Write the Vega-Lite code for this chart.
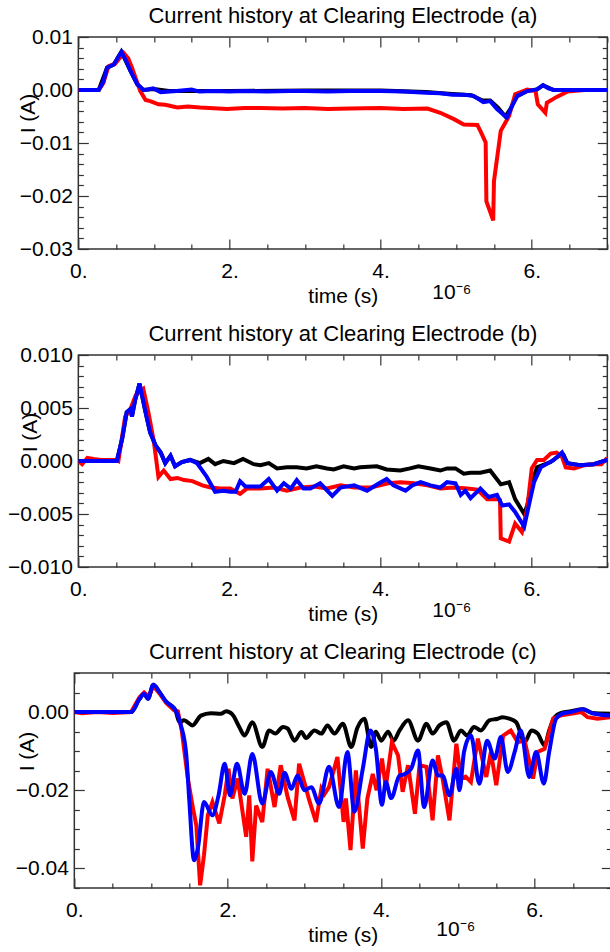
{
  "$schema": "https://vega.github.io/schema/vega-lite/v6.json",
  "autosize": {"type": "pad"},
  "padding": {"left": 6, "top": 4, "right": 0, "bottom": 0},
  "background": "white",
  "config": {
    "view": {"stroke": "#333333", "strokeWidth": 1.5},
    "axis": {"domain": false, "grid": false, "tickColor": "#333333", "tickWidth": 1.2, "labelFont": "Liberation Sans", "labelFontSize": 21, "labelColor": "#000000", "titleFont": "Liberation Sans", "titleFontSize": 21, "titleFontWeight": "normal", "titleColor": "#000000", "labelFlush": false, "labelOverlap": false, "labelBound": false},
    "title": {"font": "Liberation Sans", "fontSize": 22, "fontWeight": "normal", "color": "#000000", "frame": "group", "offset": -2}
  },
  "datasets": {
    "a": [
      {"s":"black","t":0,"I":0},{"s":"black","t":0.27,"I":0},{"s":"black","t":0.38,"I":0.0042},{"s":"black","t":0.47,"I":0.0048},{"s":"black","t":0.57,"I":0.0072},{"s":"black","t":0.69,"I":0.0036},{"s":"black","t":0.78,"I":0.0011},{"s":"black","t":0.86,"I":0},{"s":"black","t":1.0,"I":0.0002},{"s":"black","t":1.2,"I":-0.0002},{"s":"black","t":2.0,"I":-0.0002},{"s":"black","t":3.0,"I":-0.0001},{"s":"black","t":4.0,"I":-0.0001},{"s":"black","t":4.6,"I":-0.0004},{"s":"black","t":4.9,"I":-0.0007},{"s":"black","t":5.2,"I":-0.001},{"s":"black","t":5.35,"I":-0.002},{"s":"black","t":5.45,"I":-0.002},{"s":"black","t":5.55,"I":-0.0033},{"s":"black","t":5.65,"I":-0.005},{"s":"black","t":5.72,"I":-0.0035},{"s":"black","t":5.8,"I":-0.0012},{"s":"black","t":5.94,"I":-0.0002},{"s":"black","t":6.07,"I":0.0001},{"s":"black","t":6.15,"I":0.0009},{"s":"black","t":6.29,"I":0},{"s":"black","t":7,"I":0},
      {"s":"red","t":0,"I":0},{"s":"red","t":0.27,"I":0},{"s":"red","t":0.33,"I":0.0013},{"s":"red","t":0.4,"I":0.0045},{"s":"red","t":0.49,"I":0.005},{"s":"red","t":0.6,"I":0.007},{"s":"red","t":0.66,"I":0.006},{"s":"red","t":0.71,"I":0.0042},{"s":"red","t":0.82,"I":-0.0002},{"s":"red","t":0.89,"I":-0.0019},{"s":"red","t":0.95,"I":-0.0021},{"s":"red","t":1.06,"I":-0.0027},{"s":"red","t":1.15,"I":-0.0028},{"s":"red","t":1.31,"I":-0.0033},{"s":"red","t":1.45,"I":-0.0031},{"s":"red","t":1.61,"I":-0.0033},{"s":"red","t":1.97,"I":-0.0036},{"s":"red","t":2.2,"I":-0.0034},{"s":"red","t":2.41,"I":-0.0034},{"s":"red","t":2.7,"I":-0.0035},{"s":"red","t":3.0,"I":-0.0034},{"s":"red","t":3.3,"I":-0.0036},{"s":"red","t":3.6,"I":-0.0035},{"s":"red","t":4.0,"I":-0.0034},{"s":"red","t":4.3,"I":-0.0036},{"s":"red","t":4.62,"I":-0.0035},{"s":"red","t":4.79,"I":-0.0043},{"s":"red","t":4.97,"I":-0.0055},{"s":"red","t":5.1,"I":-0.0065},{"s":"red","t":5.28,"I":-0.0066},{"s":"red","t":5.32,"I":-0.0077},{"s":"red","t":5.39,"I":-0.0099},{"s":"red","t":5.4,"I":-0.021},{"s":"red","t":5.49,"I":-0.0246},{"s":"red","t":5.5,"I":-0.0172},{"s":"red","t":5.59,"I":-0.0077},{"s":"red","t":5.7,"I":-0.0049},{"s":"red","t":5.78,"I":-0.0008},{"s":"red","t":5.94,"I":0.0001},{"s":"red","t":6.05,"I":-0.0002},{"s":"red","t":6.08,"I":-0.0027},{"s":"red","t":6.18,"I":-0.0043},{"s":"red","t":6.2,"I":-0.0024},{"s":"red","t":6.33,"I":-0.0013},{"s":"red","t":6.47,"I":-0.0003},{"s":"red","t":6.7,"I":0},{"s":"red","t":7,"I":0},
      {"s":"blue","t":0,"I":0},{"s":"blue","t":0.27,"I":0},{"s":"blue","t":0.33,"I":0.0015},{"s":"blue","t":0.38,"I":0.0042},{"s":"blue","t":0.47,"I":0.0048},{"s":"blue","t":0.57,"I":0.0072},{"s":"blue","t":0.63,"I":0.0056},{"s":"blue","t":0.69,"I":0.0036},{"s":"blue","t":0.78,"I":0.0011},{"s":"blue","t":0.86,"I":0},{"s":"blue","t":0.92,"I":0.0001},{"s":"blue","t":0.99,"I":0.0003},{"s":"blue","t":1.09,"I":-0.0004},{"s":"blue","t":1.3,"I":-0.0002},{"s":"blue","t":1.5,"I":0.0001},{"s":"blue","t":1.6,"I":-0.0003},{"s":"blue","t":1.8,"I":-0.0002},{"s":"blue","t":2.0,"I":-0.0003},{"s":"blue","t":2.2,"I":-0.0002},{"s":"blue","t":2.5,"I":-0.0003},{"s":"blue","t":2.8,"I":-0.0002},{"s":"blue","t":3.0,"I":-0.0002},{"s":"blue","t":3.3,"I":-0.0003},{"s":"blue","t":3.6,"I":-0.0002},{"s":"blue","t":4.0,"I":-0.0002},{"s":"blue","t":4.3,"I":-0.0003},{"s":"blue","t":4.6,"I":-0.0005},{"s":"blue","t":4.79,"I":-0.0006},{"s":"blue","t":4.95,"I":-0.0009},{"s":"blue","t":5.1,"I":-0.0009},{"s":"blue","t":5.23,"I":-0.0011},{"s":"blue","t":5.36,"I":-0.0023},{"s":"blue","t":5.45,"I":-0.0021},{"s":"blue","t":5.54,"I":-0.0036},{"s":"blue","t":5.67,"I":-0.0052},{"s":"blue","t":5.74,"I":-0.003},{"s":"blue","t":5.81,"I":-0.0011},{"s":"blue","t":5.94,"I":-0.0002},{"s":"blue","t":6.07,"I":0.0001},{"s":"blue","t":6.15,"I":0.0009},{"s":"blue","t":6.22,"I":0.0003},{"s":"blue","t":6.29,"I":0},{"s":"blue","t":6.5,"I":0},{"s":"blue","t":7,"I":0}
    ],
    "b": [
      {"s":"black","t":0,"I":0},{"s":"black","t":0.51,"I":0},{"s":"black","t":0.58,"I":0.0021},{"s":"black","t":0.64,"I":0.0046},{"s":"black","t":0.69,"I":0.0049},{"s":"black","t":0.71,"I":0.0042},{"s":"black","t":0.75,"I":0.0057},{"s":"black","t":0.81,"I":0.0073},{"s":"black","t":0.89,"I":0.0046},{"s":"black","t":0.95,"I":0.0027},{"s":"black","t":1.02,"I":0.0015},{"s":"black","t":1.09,"I":0.0008},{"s":"black","t":1.15,"I":-0.0002},{"s":"black","t":1.22,"I":0.0005},{"s":"black","t":1.28,"I":-0.0005},{"s":"black","t":1.37,"I":-0.0001},{"s":"black","t":1.48,"I":0.0001},{"s":"black","t":1.61,"I":-0.0002},{"s":"black","t":1.72,"I":0.0002},{"s":"black","t":1.81,"I":-0.0003},{"s":"black","t":1.92,"I":0},{"s":"black","t":2.06,"I":-0.0002},{"s":"black","t":2.18,"I":0.0002},{"s":"black","t":2.32,"I":-0.0003},{"s":"black","t":2.41,"I":-0.0004},{"s":"black","t":2.52,"I":-0.0002},{"s":"black","t":2.63,"I":-0.0007},{"s":"black","t":2.76,"I":-0.0006},{"s":"black","t":2.89,"I":-0.0006},{"s":"black","t":3.02,"I":-0.0007},{"s":"black","t":3.15,"I":-0.0005},{"s":"black","t":3.29,"I":-0.0007},{"s":"black","t":3.38,"I":-0.0008},{"s":"black","t":3.51,"I":-0.0005},{"s":"black","t":3.65,"I":-0.0007},{"s":"black","t":3.73,"I":-0.0006},{"s":"black","t":3.95,"I":-0.0005},{"s":"black","t":4.08,"I":-0.0008},{"s":"black","t":4.26,"I":-0.0009},{"s":"black","t":4.39,"I":-0.0007},{"s":"black","t":4.5,"I":-0.0005},{"s":"black","t":4.66,"I":-0.0007},{"s":"black","t":4.79,"I":-0.0009},{"s":"black","t":4.88,"I":-0.0007},{"s":"black","t":4.99,"I":-0.0007},{"s":"black","t":5.1,"I":-0.0012},{"s":"black","t":5.19,"I":-0.0011},{"s":"black","t":5.32,"I":-0.0011},{"s":"black","t":5.45,"I":-0.0009},{"s":"black","t":5.59,"I":-0.0022},{"s":"black","t":5.7,"I":-0.002},{"s":"black","t":5.78,"I":-0.0036},{"s":"black","t":5.9,"I":-0.005},{"s":"black","t":5.94,"I":-0.0042},{"s":"black","t":6.0,"I":-0.0021},{"s":"black","t":6.07,"I":-0.0006},{"s":"black","t":6.25,"I":-0.0001},{"s":"black","t":6.38,"I":0.0006},{"s":"black","t":6.42,"I":0.0006},{"s":"black","t":6.47,"I":-0.0002},{"s":"black","t":6.64,"I":-0.0004},{"s":"black","t":6.82,"I":-0.0003},{"s":"black","t":7.0,"I":0.0001},
      {"s":"red","t":0,"I":0},{"s":"red","t":0.05,"I":-0.0003},{"s":"red","t":0.12,"I":0.0003},{"s":"red","t":0.2,"I":0.0002},{"s":"red","t":0.3,"I":0.0001},{"s":"red","t":0.4,"I":0.0001},{"s":"red","t":0.5,"I":0.0001},{"s":"red","t":0.53,"I":0},{"s":"red","t":0.62,"I":0.0042},{"s":"red","t":0.69,"I":0.0049},{"s":"red","t":0.76,"I":0.0062},{"s":"red","t":0.86,"I":0.0068},{"s":"red","t":0.93,"I":0.0045},{"s":"red","t":1.0,"I":0.0018},{"s":"red","t":1.06,"I":-0.0015},{"s":"red","t":1.13,"I":-0.0009},{"s":"red","t":1.22,"I":-0.0017},{"s":"red","t":1.31,"I":-0.0016},{"s":"red","t":1.4,"I":-0.0018},{"s":"red","t":1.51,"I":-0.0019},{"s":"red","t":1.64,"I":-0.0023},{"s":"red","t":1.75,"I":-0.0025},{"s":"red","t":1.88,"I":-0.0026},{"s":"red","t":2.01,"I":-0.0026},{"s":"red","t":2.14,"I":-0.0031},{"s":"red","t":2.23,"I":-0.0026},{"s":"red","t":2.41,"I":-0.0026},{"s":"red","t":2.59,"I":-0.0025},{"s":"red","t":2.76,"I":-0.0028},{"s":"red","t":2.94,"I":-0.0025},{"s":"red","t":3.12,"I":-0.0024},{"s":"red","t":3.29,"I":-0.0026},{"s":"red","t":3.47,"I":-0.0023},{"s":"red","t":3.65,"I":-0.0025},{"s":"red","t":3.87,"I":-0.0025},{"s":"red","t":4.1,"I":-0.0021},{"s":"red","t":4.26,"I":-0.002},{"s":"red","t":4.44,"I":-0.0021},{"s":"red","t":4.62,"I":-0.0023},{"s":"red","t":4.79,"I":-0.0026},{"s":"red","t":4.97,"I":-0.0025},{"s":"red","t":5.15,"I":-0.0026},{"s":"red","t":5.28,"I":-0.0027},{"s":"red","t":5.41,"I":-0.0036},{"s":"red","t":5.54,"I":-0.0036},{"s":"red","t":5.58,"I":-0.0037},{"s":"red","t":5.59,"I":-0.0073},{"s":"red","t":5.7,"I":-0.0076},{"s":"red","t":5.78,"I":-0.0059},{"s":"red","t":5.87,"I":-0.0067},{"s":"red","t":5.94,"I":-0.0045},{"s":"red","t":6.0,"I":-0.0007},{"s":"red","t":6.07,"I":0.0001},{"s":"red","t":6.16,"I":0.0001},{"s":"red","t":6.25,"I":0.0007},{"s":"red","t":6.33,"I":0.0008},{"s":"red","t":6.4,"I":0.0004},{"s":"red","t":6.45,"I":-0.0006},{"s":"red","t":6.56,"I":-0.0007},{"s":"red","t":6.69,"I":-0.0004},{"s":"red","t":6.82,"I":-0.0003},{"s":"red","t":6.92,"I":-0.0003},{"s":"red","t":7.0,"I":0.0003},
      {"s":"blue","t":0,"I":0},{"s":"blue","t":0.51,"I":0},{"s":"blue","t":0.58,"I":0.0021},{"s":"blue","t":0.64,"I":0.0046},{"s":"blue","t":0.69,"I":0.0049},{"s":"blue","t":0.71,"I":0.0042},{"s":"blue","t":0.75,"I":0.0057},{"s":"blue","t":0.81,"I":0.0073},{"s":"blue","t":0.89,"I":0.0046},{"s":"blue","t":0.95,"I":0.0027},{"s":"blue","t":1.02,"I":0.0015},{"s":"blue","t":1.09,"I":0.0008},{"s":"blue","t":1.15,"I":-0.0002},{"s":"blue","t":1.22,"I":0.0005},{"s":"blue","t":1.28,"I":-0.0005},{"s":"blue","t":1.37,"I":-0.0001},{"s":"blue","t":1.48,"I":0.0001},{"s":"blue","t":1.57,"I":-0.0002},{"s":"blue","t":1.7,"I":-0.0015},{"s":"blue","t":1.81,"I":-0.0029},{"s":"blue","t":1.92,"I":-0.0028},{"s":"blue","t":2.01,"I":-0.0029},{"s":"blue","t":2.08,"I":-0.0029},{"s":"blue","t":2.14,"I":-0.0019},{"s":"blue","t":2.21,"I":-0.0024},{"s":"blue","t":2.41,"I":-0.0024},{"s":"blue","t":2.52,"I":-0.0017},{"s":"blue","t":2.63,"I":-0.0028},{"s":"blue","t":2.72,"I":-0.0021},{"s":"blue","t":2.81,"I":-0.0026},{"s":"blue","t":2.89,"I":-0.0018},{"s":"blue","t":2.98,"I":-0.0026},{"s":"blue","t":3.07,"I":-0.0026},{"s":"blue","t":3.2,"I":-0.0021},{"s":"blue","t":3.36,"I":-0.0033},{"s":"blue","t":3.47,"I":-0.0025},{"s":"blue","t":3.65,"I":-0.0023},{"s":"blue","t":3.82,"I":-0.0028},{"s":"blue","t":3.98,"I":-0.0021},{"s":"blue","t":4.08,"I":-0.0017},{"s":"blue","t":4.17,"I":-0.0023},{"s":"blue","t":4.33,"I":-0.0028},{"s":"blue","t":4.42,"I":-0.0023},{"s":"blue","t":4.53,"I":-0.002},{"s":"blue","t":4.66,"I":-0.0023},{"s":"blue","t":4.79,"I":-0.0025},{"s":"blue","t":4.88,"I":-0.002},{"s":"blue","t":4.99,"I":-0.0021},{"s":"blue","t":5.06,"I":-0.0032},{"s":"blue","t":5.12,"I":-0.0028},{"s":"blue","t":5.19,"I":-0.0035},{"s":"blue","t":5.32,"I":-0.0026},{"s":"blue","t":5.43,"I":-0.0034},{"s":"blue","t":5.54,"I":-0.0032},{"s":"blue","t":5.61,"I":-0.0042},{"s":"blue","t":5.7,"I":-0.0041},{"s":"blue","t":5.78,"I":-0.0048},{"s":"blue","t":5.9,"I":-0.0062},{"s":"blue","t":5.98,"I":-0.0036},{"s":"blue","t":6.03,"I":-0.002},{"s":"blue","t":6.12,"I":-0.0006},{"s":"blue","t":6.29,"I":0.0001},{"s":"blue","t":6.4,"I":0.0008},{"s":"blue","t":6.47,"I":-0.0002},{"s":"blue","t":6.64,"I":-0.0004},{"s":"blue","t":6.82,"I":-0.0003},{"s":"blue","t":7.0,"I":0.0001}
    ],
    "c": [
      {"s":"black","t":0,"I":0},{"s":"black","t":0.74,"I":0},{"s":"black","t":0.85,"I":0.0034},{"s":"black","t":0.91,"I":0.0047},{"s":"black","t":0.96,"I":0.0034},{"s":"black","t":1.03,"I":0.007},{"s":"black","t":1.11,"I":0.0051},{"s":"black","t":1.2,"I":0.0026},{"s":"black","t":1.26,"I":0.0017},{"s":"black","t":1.32,"I":0.0004},{"s":"black","t":1.37,"I":-0.0026},{"s":"black","t":1.43,"I":-0.0021},{"s":"black","t":1.54,"I":-0.0034},{"s":"black","t":1.65,"I":-0.0009},{"s":"black","t":1.78,"I":-0.0003},{"s":"black","t":1.91,"I":-0.0004},{"s":"black","t":1.98,"I":0.0002},{"s":"black","t":2.06,"I":-0.0006},{"s":"black","t":2.15,"I":-0.0038},{"s":"black","t":2.22,"I":-0.006},{"s":"black","t":2.32,"I":-0.0026},{"s":"black","t":2.45,"I":-0.0089},{"s":"black","t":2.54,"I":-0.0047},{"s":"black","t":2.62,"I":-0.0055},{"s":"black","t":2.72,"I":-0.0038},{"s":"black","t":2.78,"I":-0.0042},{"s":"black","t":2.87,"I":-0.0073},{"s":"black","t":2.96,"I":-0.0051},{"s":"black","t":3.02,"I":-0.0066},{"s":"black","t":3.13,"I":-0.0047},{"s":"black","t":3.22,"I":-0.0055},{"s":"black","t":3.3,"I":-0.0034},{"s":"black","t":3.39,"I":-0.0055},{"s":"black","t":3.5,"I":-0.003},{"s":"black","t":3.61,"I":-0.0089},{"s":"black","t":3.69,"I":-0.004},{"s":"black","t":3.78,"I":-0.0017},{"s":"black","t":3.87,"I":-0.0089},{"s":"black","t":3.93,"I":-0.005},{"s":"black","t":4.0,"I":-0.0073},{"s":"black","t":4.09,"I":-0.005},{"s":"black","t":4.16,"I":-0.0073},{"s":"black","t":4.24,"I":-0.0047},{"s":"black","t":4.35,"I":-0.0021},{"s":"black","t":4.48,"I":-0.0073},{"s":"black","t":4.59,"I":-0.003},{"s":"black","t":4.67,"I":-0.0055},{"s":"black","t":4.76,"I":-0.0034},{"s":"black","t":4.85,"I":-0.0026},{"s":"black","t":4.95,"I":-0.0073},{"s":"black","t":5.04,"I":-0.0047},{"s":"black","t":5.12,"I":-0.006},{"s":"black","t":5.21,"I":-0.0038},{"s":"black","t":5.3,"I":-0.0047},{"s":"black","t":5.41,"I":-0.0021},{"s":"black","t":5.52,"I":-0.0017},{"s":"black","t":5.58,"I":-0.0013},{"s":"black","t":5.67,"I":-0.0017},{"s":"black","t":5.76,"I":-0.0026},{"s":"black","t":5.87,"I":-0.0077},{"s":"black","t":5.96,"I":-0.0047},{"s":"black","t":6.04,"I":-0.0055},{"s":"black","t":6.13,"I":-0.0085},{"s":"black","t":6.19,"I":-0.0047},{"s":"black","t":6.26,"I":-0.0013},{"s":"black","t":6.35,"I":-0.0002},{"s":"black","t":6.47,"I":0.0002},{"s":"black","t":6.63,"I":0.0007},{"s":"black","t":6.75,"I":-0.0002},{"s":"black","t":7.0,"I":-0.0004},
      {"s":"red","t":0,"I":0},{"s":"red","t":0.1,"I":-0.0003},{"s":"red","t":0.3,"I":0},{"s":"red","t":0.5,"I":-0.0002},{"s":"red","t":0.74,"I":0},{"s":"red","t":0.85,"I":0.0038},{"s":"red","t":0.91,"I":0.005},{"s":"red","t":0.97,"I":0.004},{"s":"red","t":1.03,"I":0.0066},{"s":"red","t":1.11,"I":0.0048},{"s":"red","t":1.2,"I":0.0023},{"s":"red","t":1.3,"I":0.0005},{"s":"red","t":1.35,"I":0.0002},{"s":"red","t":1.4,"I":-0.0047},{"s":"red","t":1.48,"I":-0.017},{"s":"red","t":1.54,"I":-0.0239},{"s":"red","t":1.59,"I":-0.029},{"s":"red","t":1.64,"I":-0.0443},{"s":"red","t":1.69,"I":-0.0366},{"s":"red","t":1.74,"I":-0.0264},{"s":"red","t":1.8,"I":-0.023},{"s":"red","t":1.89,"I":-0.0285},{"s":"red","t":1.96,"I":-0.0213},{"s":"red","t":2.01,"I":-0.0145},{"s":"red","t":2.06,"I":-0.0221},{"s":"red","t":2.13,"I":-0.017},{"s":"red","t":2.24,"I":-0.0319},{"s":"red","t":2.28,"I":-0.0213},{"s":"red","t":2.32,"I":-0.0382},{"s":"red","t":2.37,"I":-0.0239},{"s":"red","t":2.45,"I":-0.0281},{"s":"red","t":2.52,"I":-0.0145},{"s":"red","t":2.61,"I":-0.0243},{"s":"red","t":2.69,"I":-0.0136},{"s":"red","t":2.78,"I":-0.0217},{"s":"red","t":2.87,"I":-0.0277},{"s":"red","t":2.93,"I":-0.0132},{"s":"red","t":3.02,"I":-0.0195},{"s":"red","t":3.06,"I":-0.0224},{"s":"red","t":3.15,"I":-0.0281},{"s":"red","t":3.22,"I":-0.0196},{"s":"red","t":3.26,"I":-0.021},{"s":"red","t":3.32,"I":-0.0192},{"s":"red","t":3.43,"I":-0.0115},{"s":"red","t":3.51,"I":-0.0281},{"s":"red","t":3.54,"I":-0.0221},{"s":"red","t":3.6,"I":-0.0353},{"s":"red","t":3.67,"I":-0.0149},{"s":"red","t":3.76,"I":-0.0349},{"s":"red","t":3.82,"I":-0.0221},{"s":"red","t":3.89,"I":-0.0158},{"s":"red","t":3.94,"I":-0.02},{"s":"red","t":4.01,"I":-0.0119},{"s":"red","t":4.06,"I":-0.0192},{"s":"red","t":4.14,"I":-0.0077},{"s":"red","t":4.22,"I":-0.0111},{"s":"red","t":4.28,"I":-0.0204},{"s":"red","t":4.35,"I":-0.0136},{"s":"red","t":4.44,"I":-0.026},{"s":"red","t":4.5,"I":-0.0136},{"s":"red","t":4.59,"I":-0.014},{"s":"red","t":4.67,"I":-0.0277},{"s":"red","t":4.74,"I":-0.0111},{"s":"red","t":4.8,"I":-0.017},{"s":"red","t":4.89,"I":-0.0277},{"s":"red","t":4.98,"I":-0.0081},{"s":"red","t":5.04,"I":-0.017},{"s":"red","t":5.1,"I":-0.0165},{"s":"red","t":5.17,"I":-0.0179},{"s":"red","t":5.26,"I":-0.0068},{"s":"red","t":5.37,"I":-0.0166},{"s":"red","t":5.43,"I":-0.0102},{"s":"red","t":5.5,"I":-0.0187},{"s":"red","t":5.59,"I":-0.006},{"s":"red","t":5.69,"I":-0.0047},{"s":"red","t":5.78,"I":-0.0077},{"s":"red","t":5.87,"I":-0.0073},{"s":"red","t":5.98,"I":-0.017},{"s":"red","t":6.04,"I":-0.0102},{"s":"red","t":6.13,"I":-0.0094},{"s":"red","t":6.24,"I":-0.0017},{"s":"red","t":6.35,"I":-0.0008},{"s":"red","t":6.47,"I":-0.0004},{"s":"red","t":6.61,"I":0},{"s":"red","t":6.69,"I":-0.0013},{"s":"red","t":6.82,"I":-0.0017},{"s":"red","t":7.0,"I":-0.0013},
      {"s":"blue","t":0,"I":0},{"s":"blue","t":0.74,"I":0},{"s":"blue","t":0.85,"I":0.0034},{"s":"blue","t":0.91,"I":0.0047},{"s":"blue","t":0.96,"I":0.0034},{"s":"blue","t":1.03,"I":0.007},{"s":"blue","t":1.11,"I":0.0051},{"s":"blue","t":1.2,"I":0.0026},{"s":"blue","t":1.26,"I":0.0017},{"s":"blue","t":1.32,"I":0.0004},{"s":"blue","t":1.39,"I":-0.0034},{"s":"blue","t":1.46,"I":-0.0111},{"s":"blue","t":1.5,"I":-0.023},{"s":"blue","t":1.56,"I":-0.0379},{"s":"blue","t":1.61,"I":-0.0349},{"s":"blue","t":1.69,"I":-0.023},{"s":"blue","t":1.8,"I":-0.0264},{"s":"blue","t":1.88,"I":-0.0213},{"s":"blue","t":1.96,"I":-0.0132},{"s":"blue","t":2.03,"I":-0.0213},{"s":"blue","t":2.12,"I":-0.0132},{"s":"blue","t":2.22,"I":-0.0209},{"s":"blue","t":2.32,"I":-0.0107},{"s":"blue","t":2.45,"I":-0.0234},{"s":"blue","t":2.56,"I":-0.0153},{"s":"blue","t":2.67,"I":-0.0209},{"s":"blue","t":2.74,"I":-0.0155},{"s":"blue","t":2.83,"I":-0.0196},{"s":"blue","t":2.91,"I":-0.0162},{"s":"blue","t":3.0,"I":-0.02},{"s":"blue","t":3.09,"I":-0.0192},{"s":"blue","t":3.19,"I":-0.0234},{"s":"blue","t":3.32,"I":-0.014},{"s":"blue","t":3.45,"I":-0.0243},{"s":"blue","t":3.56,"I":-0.0102},{"s":"blue","t":3.65,"I":-0.0255},{"s":"blue","t":3.76,"I":-0.0145},{"s":"blue","t":3.86,"I":-0.0047},{"s":"blue","t":3.93,"I":-0.0094},{"s":"blue","t":4.01,"I":-0.0237},{"s":"blue","t":4.06,"I":-0.0179},{"s":"blue","t":4.13,"I":-0.022},{"s":"blue","t":4.24,"I":-0.0162},{"s":"blue","t":4.29,"I":-0.016},{"s":"blue","t":4.39,"I":-0.0145},{"s":"blue","t":4.48,"I":-0.0098},{"s":"blue","t":4.56,"I":-0.0243},{"s":"blue","t":4.67,"I":-0.0124},{"s":"blue","t":4.74,"I":-0.0162},{"s":"blue","t":4.8,"I":-0.0162},{"s":"blue","t":4.89,"I":-0.0213},{"s":"blue","t":4.98,"I":-0.0145},{"s":"blue","t":5.02,"I":-0.02},{"s":"blue","t":5.08,"I":-0.0102},{"s":"blue","t":5.17,"I":-0.006},{"s":"blue","t":5.28,"I":-0.0183},{"s":"blue","t":5.38,"I":-0.0073},{"s":"blue","t":5.48,"I":-0.0119},{"s":"blue","t":5.56,"I":-0.0064},{"s":"blue","t":5.65,"I":-0.0153},{"s":"blue","t":5.74,"I":-0.0102},{"s":"blue","t":5.82,"I":-0.0047},{"s":"blue","t":5.93,"I":-0.0166},{"s":"blue","t":6.02,"I":-0.0102},{"s":"blue","t":6.12,"I":-0.0183},{"s":"blue","t":6.19,"I":-0.0102},{"s":"blue","t":6.28,"I":-0.0017},{"s":"blue","t":6.36,"I":-0.0004},{"s":"blue","t":6.47,"I":0},{"s":"blue","t":6.63,"I":0.0007},{"s":"blue","t":6.75,"I":-0.0003},{"s":"blue","t":7.0,"I":-0.0009}
    ]
  },
  "vconcat": [
    {
      "title": {"text": "Current history at Clearing Electrode (a)"},
      "width": 529, "height": 212,
      "data": {"name": "a"},
      "layer": [
        {"transform": [{"filter": "datum.s === 'black'"}],
         "mark": {"type": "line", "color": "#000000", "strokeWidth": 4, "clip": true},
         "encoding": {
           "x": {"field": "t", "type": "quantitative", "scale": {"domain": [0, 7], "nice": false, "zero": false},
                 "axis": {"orient": "bottom", "values": [0,0.5,1,1.5,2,2.5,3,3.5,4,4.5,5,5.5,6,6.5,7], "labelExpr": "datum.value % 2 === 0 && datum.value < 7 ? datum.value + '.' : ''", "tickSize": {"condition": {"test": "datum.value % 2 === 0", "value": -10}, "value": -5}, "labelPadding": 21, "title": "time (s)", "titleY": 53, "titleBaseline": "alphabetic"}},
           "y": {"field": "I", "type": "quantitative", "scale": {"domain": [-0.03, 0.01], "nice": false, "zero": false},
                 "axis": {"orient": "left", "values": [-0.03,-0.028,-0.026,-0.024,-0.022,-0.02,-0.018,-0.016,-0.014,-0.012,-0.01,-0.008,-0.006,-0.004,-0.002,0,0.002,0.004,0.006,0.008,0.01], "labelExpr": "abs(datum.value*100 - round(datum.value*100)) < 0.01 ? (datum.value === -0.03 ? '\u00a0\u00a0' : '') + format(datum.value, '.2f') : ''", "tickSize": {"condition": {"test": "abs(datum.value*100 - round(datum.value*100)) < 0.01", "value": -10}, "value": -5}, "labelPadding": 16, "title": "I (A)", "titleX": -50, "titleY": 76, "titleAngle": 270, "titleAlign": "center", "titleBaseline": "middle"}}
         }},
        {"transform": [{"filter": "datum.s === 'red'"}],
         "mark": {"type": "line", "color": "#ff0000", "strokeWidth": 4, "clip": true},
         "encoding": {
           "x": {"field": "t", "type": "quantitative", "scale": {"domain": [0, 7], "nice": false, "zero": false},
                 "axis": {"orient": "top", "values": [0,0.5,1,1.5,2,2.5,3,3.5,4,4.5,5,5.5,6,6.5,7], "labels": false, "tickSize": {"condition": {"test": "datum.value % 2 === 0", "value": -10}, "value": -5}, "title": "10\u207b\u2076", "titleX": 373, "titleY": 261, "titleAngle": 0, "titleAlign": "center", "titleBaseline": "alphabetic"}},
           "y": {"field": "I", "type": "quantitative", "scale": {"domain": [-0.03, 0.01], "nice": false, "zero": false},
                 "axis": {"orient": "right", "values": [-0.03,-0.028,-0.026,-0.024,-0.022,-0.02,-0.018,-0.016,-0.014,-0.012,-0.01,-0.008,-0.006,-0.004,-0.002,0,0.002,0.004,0.006,0.008,0.01], "labels": false, "tickSize": {"condition": {"test": "abs(datum.value*100 - round(datum.value*100)) < 0.01", "value": -10}, "value": -5}, "title": null}}
         }},
        {"transform": [{"filter": "datum.s === 'blue'"}],
         "mark": {"type": "line", "color": "#0000ff", "strokeWidth": 4, "clip": true},
         "encoding": {
           "x": {"field": "t", "type": "quantitative", "scale": {"domain": [0, 7], "nice": false, "zero": false}, "axis": null},
           "y": {"field": "I", "type": "quantitative", "scale": {"domain": [-0.03, 0.01], "nice": false, "zero": false}, "axis": null}
         }}
      ],
      "resolve": {"axis": {"x": "independent", "y": "independent"}}
    },
    {
      "title": {"text": "Current history at Clearing Electrode (b)"},
      "width": 529, "height": 212,
      "data": {"name": "b"},
      "layer": [
        {"transform": [{"filter": "datum.s === 'black'"}],
         "mark": {"type": "line", "color": "#000000", "strokeWidth": 4, "clip": true},
         "encoding": {
           "x": {"field": "t", "type": "quantitative", "scale": {"domain": [0, 7], "nice": false, "zero": false},
                 "axis": {"orient": "bottom", "values": [0,0.5,1,1.5,2,2.5,3,3.5,4,4.5,5,5.5,6,6.5,7], "labelExpr": "datum.value % 2 === 0 && datum.value < 7 ? datum.value + '.' : ''", "tickSize": {"condition": {"test": "datum.value % 2 === 0", "value": -10}, "value": -5}, "labelPadding": 21, "title": "time (s)", "titleY": 53, "titleBaseline": "alphabetic"}},
           "y": {"field": "I", "type": "quantitative", "scale": {"domain": [-0.01, 0.01], "nice": false, "zero": false},
                 "axis": {"orient": "left", "values": [-0.01,-0.009,-0.008,-0.007,-0.006,-0.005,-0.004,-0.003,-0.002,-0.001,0,0.001,0.002,0.003,0.004,0.005,0.006,0.007,0.008,0.009,0.01], "labelExpr": "abs(datum.value*200 - round(datum.value*200)) < 0.01 ? format(datum.value, '.3f') : ''", "tickSize": {"condition": {"test": "abs(datum.value*200 - round(datum.value*200)) < 0.01", "value": -10}, "value": -5}, "labelPadding": 16, "title": "I (A)", "titleX": -48, "titleY": 77, "titleAngle": 270, "titleAlign": "center", "titleBaseline": "middle"}}
         }},
        {"transform": [{"filter": "datum.s === 'red'"}],
         "mark": {"type": "line", "color": "#ff0000", "strokeWidth": 4, "clip": true},
         "encoding": {
           "x": {"field": "t", "type": "quantitative", "scale": {"domain": [0, 7], "nice": false, "zero": false},
                 "axis": {"orient": "top", "values": [0,0.5,1,1.5,2,2.5,3,3.5,4,4.5,5,5.5,6,6.5,7], "labels": false, "tickSize": {"condition": {"test": "datum.value % 2 === 0", "value": -10}, "value": -5}, "title": "10\u207b\u2076", "titleX": 373, "titleY": 261, "titleAngle": 0, "titleAlign": "center", "titleBaseline": "alphabetic"}},
           "y": {"field": "I", "type": "quantitative", "scale": {"domain": [-0.01, 0.01], "nice": false, "zero": false},
                 "axis": {"orient": "right", "values": [-0.01,-0.009,-0.008,-0.007,-0.006,-0.005,-0.004,-0.003,-0.002,-0.001,0,0.001,0.002,0.003,0.004,0.005,0.006,0.007,0.008,0.009,0.01], "labels": false, "tickSize": {"condition": {"test": "abs(datum.value*200 - round(datum.value*200)) < 0.01", "value": -10}, "value": -5}, "title": null}}
         }},
        {"transform": [{"filter": "datum.s === 'blue'"}],
         "mark": {"type": "line", "color": "#0000ff", "strokeWidth": 4, "clip": true},
         "encoding": {
           "x": {"field": "t", "type": "quantitative", "scale": {"domain": [0, 7], "nice": false, "zero": false}, "axis": null},
           "y": {"field": "I", "type": "quantitative", "scale": {"domain": [-0.01, 0.01], "nice": false, "zero": false}, "axis": null}
         }}
      ],
      "resolve": {"axis": {"x": "independent", "y": "independent"}}
    },
    {
      "title": {"text": "Current history at Clearing Electrode (c)"},
      "width": 537, "height": 215,
      "data": {"name": "c"},
      "layer": [
        {"transform": [{"filter": "datum.s === 'black'"}],
         "mark": {"type": "line", "color": "#000000", "strokeWidth": 4, "clip": true, "interpolate": "monotone"},
         "encoding": {
           "x": {"field": "t", "type": "quantitative", "scale": {"domain": [0, 7], "nice": false, "zero": false},
                 "axis": {"orient": "bottom", "values": [0,0.5,1,1.5,2,2.5,3,3.5,4,4.5,5,5.5,6,6.5,7], "labelExpr": "datum.value % 2 === 0 && datum.value < 7 ? datum.value + '.' : ''", "tickSize": {"condition": {"test": "datum.value % 2 === 0", "value": -10}, "value": -5}, "labelPadding": 21, "title": "time (s)", "titleY": 53, "titleBaseline": "alphabetic"}},
           "y": {"field": "I", "type": "quantitative", "scale": {"domain": [-0.045, 0.01], "nice": false, "zero": false},
                 "axis": {"orient": "left", "values": [-0.045,-0.04,-0.035,-0.03,-0.025,-0.02,-0.015,-0.01,-0.005,0,0.005,0.01], "labelExpr": "abs(datum.value*50 - round(datum.value*50)) < 0.01 ? (datum.value === -0.04 ? '\u00a0' : '') + format(datum.value, '.2f') : ''", "tickSize": {"condition": {"test": "abs(datum.value*50 - round(datum.value*50)) < 0.01", "value": -10}, "value": -5}, "labelPadding": 16, "title": "I (A)", "titleX": -47, "titleY": 78, "titleAngle": 270, "titleAlign": "center", "titleBaseline": "middle"}}
         }},
        {"transform": [{"filter": "datum.s === 'red'"}],
         "mark": {"type": "line", "color": "#ff0000", "strokeWidth": 4, "clip": true},
         "encoding": {
           "x": {"field": "t", "type": "quantitative", "scale": {"domain": [0, 7], "nice": false, "zero": false},
                 "axis": {"orient": "top", "values": [0,0.5,1,1.5,2,2.5,3,3.5,4,4.5,5,5.5,6,6.5,7], "labels": false, "tickSize": {"condition": {"test": "datum.value % 2 === 0", "value": -10}, "value": -5}, "title": "10\u207b\u2076", "titleX": 381, "titleY": 262, "titleAngle": 0, "titleAlign": "center", "titleBaseline": "alphabetic"}},
           "y": {"field": "I", "type": "quantitative", "scale": {"domain": [-0.045, 0.01], "nice": false, "zero": false},
                 "axis": {"orient": "right", "values": [-0.045,-0.04,-0.035,-0.03,-0.025,-0.02,-0.015,-0.01,-0.005,0,0.005,0.01], "labels": false, "tickSize": {"condition": {"test": "abs(datum.value*50 - round(datum.value*50)) < 0.01", "value": -10}, "value": -5}, "title": null}}
         }},
        {"transform": [{"filter": "datum.s === 'blue'"}],
         "mark": {"type": "line", "color": "#0000ff", "strokeWidth": 4, "clip": true, "interpolate": "monotone"},
         "encoding": {
           "x": {"field": "t", "type": "quantitative", "scale": {"domain": [0, 7], "nice": false, "zero": false}, "axis": null},
           "y": {"field": "I", "type": "quantitative", "scale": {"domain": [-0.045, 0.01], "nice": false, "zero": false}, "axis": null}
         }}
      ],
      "resolve": {"axis": {"x": "independent", "y": "independent"}}
    }
  ],
  "center": true,
  "spacing": 15,
  "bounds": "full"
}
